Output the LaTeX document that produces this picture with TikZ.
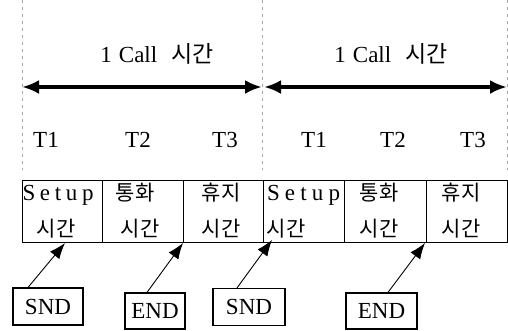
\documentclass[tikz,border=0pt]{standalone}
\usepackage{fontspec}
\setmainfont{Liberation Serif}
\newfontfamily\kr{Noto Sans CJK KR}
\usetikzlibrary{arrows.meta}

\begin{document}
\begin{tikzpicture}[x=1pt,y=-1pt,
  guide/.style={draw=gray!70, line width=0.8pt, dash pattern=on 3pt off 4pt},
  span/.style={line width=4pt, {Latex[length=17pt,width=14pt]}-{Latex[length=17pt,width=14pt]}},
  cell/.style={draw, line width=1.2pt, minimum height=62pt, inner sep=0pt, anchor=north west},
  tag/.style={draw, line width=1.2pt, minimum height=37pt, inner sep=0pt, font=\fontsize{23}{27}\selectfont},
  ptr/.style={line width=0.9pt, -{Latex[length=16pt,width=12pt]}},
  lbl/.style={inner sep=0pt, anchor=base, font=\fontsize{23}{27}\selectfont},
  kor/.style={inner sep=0pt, anchor=base, font=\fontsize{21}{25}\kr}
]
\useasboundingbox (0,0) rectangle (508,330);

% dashed period boundaries
\draw[guide] (22,0) -- (22,170);
\draw[guide] (262,0) -- (262,170);
\draw[guide] (507,0) -- (507,170);

% call periods
\coordinate (a0) at (22,87);
\coordinate (a1) at (262,87);
\coordinate (a2) at (264,87);
\coordinate (a3) at (507,87);
\draw[span] (a0) -- (a1);
\draw[span] (a2) -- (a3);

\node[lbl] (h1) at (157,62) {1\hspace{7pt}Call\hspace{14pt}{\kr 시간}};
\node[lbl] (h2) at (391,62) {1\hspace{7pt}Call\hspace{14pt}{\kr 시간}};

% phase labels
\node[lbl] (p1) at (46,147) {T1};
\node[lbl] (p2) at (138,147) {T2};
\node[lbl] (p3) at (225,147) {T3};
\node[lbl] (p4) at (314,147) {T1};
\node[lbl] (p5) at (393,147) {T2};
\node[lbl] (p6) at (473,147) {T3};

% phase cells
\node[cell, minimum width=80pt] (c1) at (22,180) {};
\node[cell, minimum width=81pt] (c2) at (102,180) {};
\node[cell, minimum width=80pt] (c3) at (183,180) {};
\node[cell, minimum width=81pt] (c4) at (263,180) {};
\node[cell, minimum width=82pt] (c5) at (344,180) {};
\node[cell, minimum width=81pt] (c6) at (426,180) {};

\node[lbl] (s1) at (58,200) {\makebox[71pt][s]{S\hfil e\hfil t\hfil u\hfil p}};
\node[kor] (k1) at (56,236) {시간};
\node[kor] (k2) at (135,200) {통화};
\node[kor] (k3) at (140,236) {시간};
\node[kor] (k4) at (221,200) {휴지};
\node[kor] (k5) at (221,236) {시간};
\node[lbl] (s2) at (303.5,200) {\makebox[73pt][s]{S\hfil e\hfil t\hfil u\hfil p}};
\node[kor] (k6) at (286,236) {시간};
\node[kor] (k7) at (379,200) {통화};
\node[kor] (k8) at (379,236) {시간};
\node[kor] (k9) at (461,200) {휴지};
\node[kor] (k10) at (461,236) {시간};

% signal boxes
\node[tag, minimum width=70pt] (snd1) at (48,306.5) {SND};
\node[tag, minimum width=60pt, minimum height=36pt] (end1) at (155,311) {END};
\node[tag, minimum width=72pt] (snd2) at (249,307) {SND};
\node[tag, minimum width=71pt, minimum height=36pt] (end2) at (381.5,311) {END};

% signal pointers
\coordinate (q1) at (65,243);
\coordinate (q2) at (183,243);
\coordinate (q3) at (272,240);
\coordinate (q4) at (425,243);
\draw[ptr] ([xshift=-20pt]snd1.north) -- (q1);
\draw[ptr] ([xshift=-8pt]end1.north) -- (q2);
\draw[ptr] ([xshift=-12pt]snd2.north) -- (q3);
\draw[ptr] ([xshift=6.5pt]end2.north) -- (q4);
\end{tikzpicture}
\end{document}
